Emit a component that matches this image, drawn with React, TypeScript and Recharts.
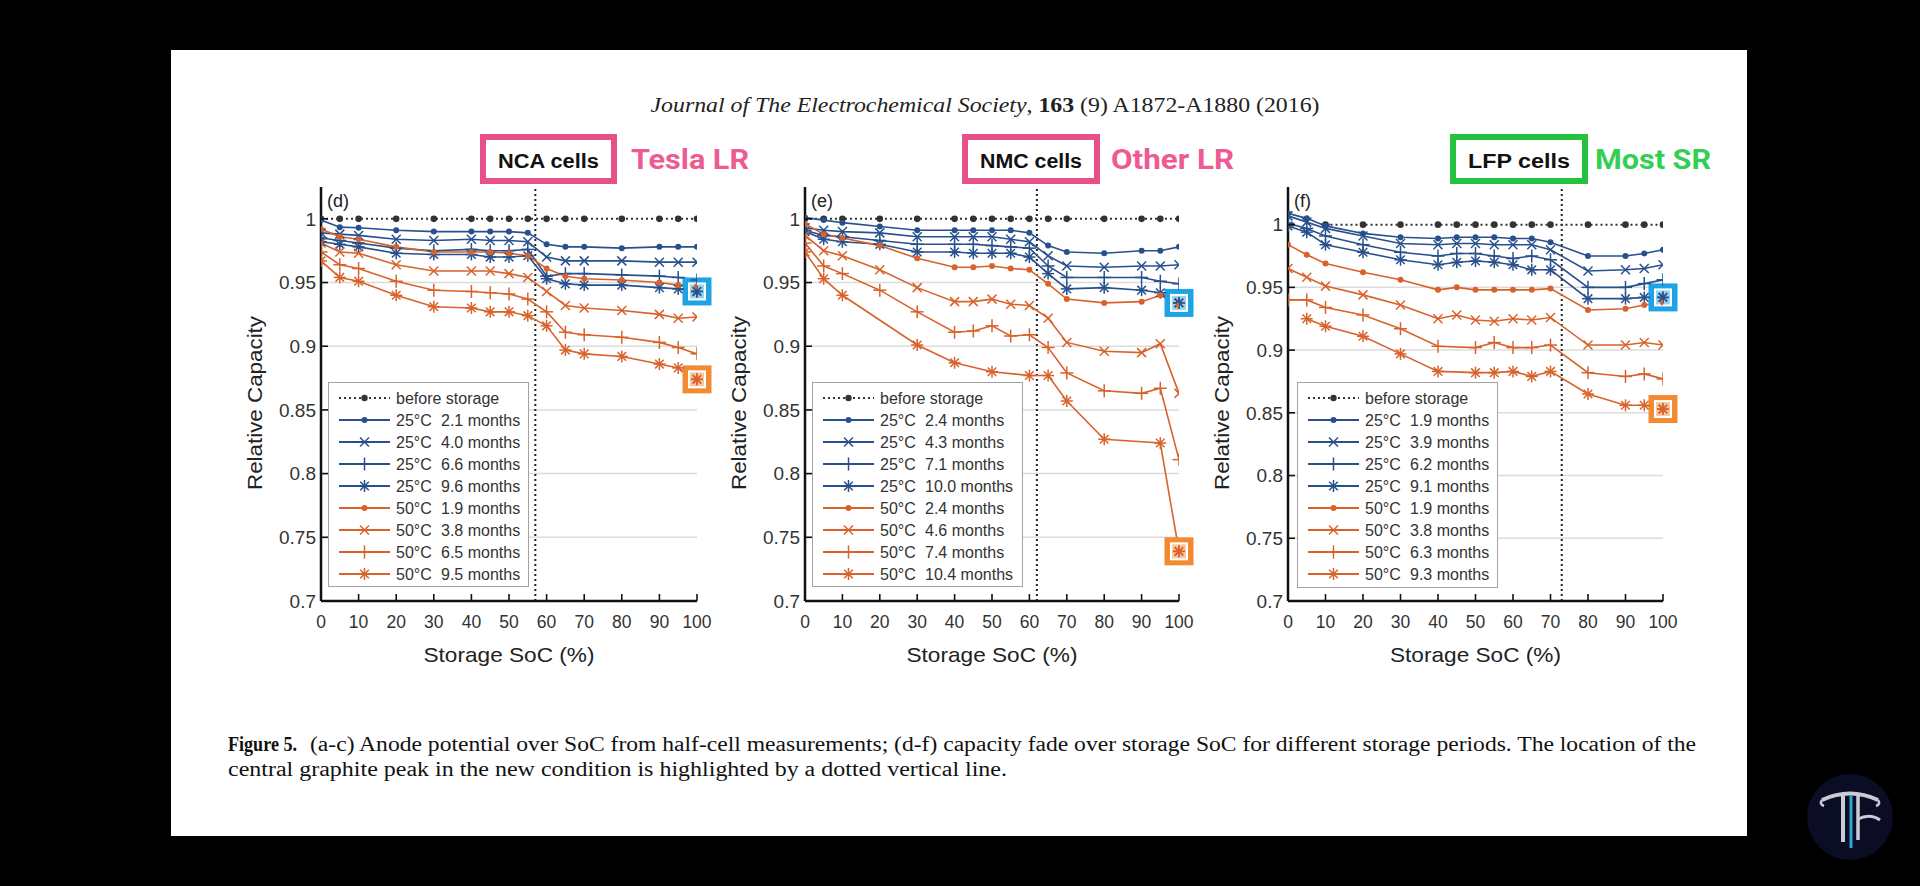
import React from 'react';
import { LineChart, Line, XAxis, YAxis, CartesianGrid, ReferenceLine, ReferenceDot, Legend } from 'recharts';

// ---------- data ----------
const socValues = [0, 5, 10, 20, 30, 40, 45, 50, 55, 60, 65, 70, 80, 90, 95, 100];
const xTicks = [0, 10, 20, 30, 40, 50, 60, 70, 80, 90, 100];
const yTicks = [0.7, 0.75, 0.8, 0.85, 0.9, 0.95, 1];
const yTickLabels = ['0.7', '0.75', '0.8', '0.85', '0.9', '0.95', '1'];
const gridValues = [0.75, 0.8, 0.85, 0.9, 0.95];

// (d) NCA
const ncaBefore = [1, 1, 1, 1, 1, 1, 1, 1, 1, 1, 1, 1, 1, 1, 1, 1];
const nca25_21 = [0.999, 0.9935, 0.993, 0.991, 0.99, 0.99, 0.99, 0.99, 0.989, 0.98, 0.978, 0.978, 0.977, 0.978, 0.978, 0.978];
const nca25_40 = [0.989, 0.988, 0.987, 0.984, 0.983, 0.984, 0.983, 0.983, 0.982, 0.97, 0.967, 0.967, 0.967, 0.966, 0.966, 0.966];
const nca25_66 = [0.985, 0.983, 0.981, 0.977, 0.975, 0.976, 0.975, 0.975, 0.976, 0.955, 0.957, 0.957, 0.956, 0.955, 0.954, 0.952];
const nca25_96 = [0.982, 0.98, 0.978, 0.973, 0.972, 0.972, 0.97, 0.97, 0.971, 0.953, 0.949, 0.948, 0.948, 0.946, 0.945, 0.943];
const nca50_19 = [0.992, 0.986, 0.984, 0.978, 0.974, 0.974, 0.974, 0.973, 0.971, 0.961, 0.955, 0.953, 0.952, 0.95, 0.948, 0.947];
const nca50_38 = [0.981, 0.974, 0.973, 0.964, 0.959, 0.959, 0.959, 0.957, 0.954, 0.943, 0.932, 0.93, 0.928, 0.925, 0.922, 0.923];
const nca50_65 = [0.974, 0.964, 0.961, 0.951, 0.944, 0.943, 0.942, 0.941, 0.937, 0.927, 0.911, 0.909, 0.907, 0.903, 0.899, 0.894];
const nca50_95 = [0.967, 0.954, 0.951, 0.94, 0.931, 0.93, 0.927, 0.927, 0.924, 0.916, 0.897, 0.894, 0.892, 0.886, 0.883, 0.874];
const ncaTemps = ['25', '25', '25', '25', '50', '50', '50', '50'];
const ncaMonths = ['2.1', '4.0', '6.6', '9.6', '1.9', '3.8', '6.5', '9.5'];

// (e) NMC
const nmcBefore = [1, 1, 1, 1, 1, 1, 1, 1, 1, 1, 1, 1, 1, 1, 1, 1];
const nmc25_24 = [1.001, 0.999, 0.997, 0.994, 0.991, 0.991, 0.991, 0.991, 0.991, 0.989, 0.979, 0.974, 0.973, 0.975, 0.975, 0.978];
const nmc25_43 = [0.993, 0.991, 0.99, 0.989, 0.986, 0.986, 0.986, 0.986, 0.984, 0.982, 0.971, 0.963, 0.962, 0.963, 0.963, 0.964];
const nmc25_71 = [0.991, 0.987, 0.986, 0.983, 0.98, 0.98, 0.98, 0.979, 0.978, 0.977, 0.963, 0.954, 0.954, 0.954, 0.951, 0.949];
const nmc25_100 = [0.99, 0.984, 0.982, 0.98, 0.974, 0.974, 0.973, 0.973, 0.973, 0.97, 0.957, 0.945, 0.946, 0.944, 0.942, 0.934];
const nmc50_24 = [0.996, 0.988, 0.985, 0.979, 0.969, 0.962, 0.962, 0.963, 0.961, 0.96, 0.949, 0.937, 0.934, 0.935, 0.94, 0.932];
const nmc50_46 = [0.987, 0.975, 0.971, 0.96, 0.946, 0.935, 0.935, 0.937, 0.933, 0.932, 0.922, 0.903, 0.896, 0.895, 0.902, 0.863];
const nmc50_74 = [0.981, 0.963, 0.957, 0.944, 0.927, 0.911, 0.912, 0.916, 0.908, 0.909, 0.899, 0.879, 0.865, 0.863, 0.867, 0.811];
const nmc50_104 = [0.974, 0.953, 0.94, null, 0.901, 0.887, null, 0.88, null, 0.877, 0.877, 0.857, 0.827, null, 0.824, 0.739];
const nmcTemps = ['25', '25', '25', '25', '50', '50', '50', '50'];
const nmcMonths = ['2.4', '4.3', '7.1', '10.0', '2.4', '4.6', '7.4', '10.4'];

// (f) LFP
const lfpBefore = [null, null, 1, 1, 1, 1, 1, 1, 1, 1, 1, 1, 1, 1, 1, 1];
const lfp25_19 = [1.009, 1.005, 0.999, 0.993, 0.99, 0.989, 0.99, 0.99, 0.99, 0.989, 0.989, 0.986, 0.975, 0.975, 0.977, 0.98];
const lfp25_39 = [1.007, 1.002, 0.997, 0.991, 0.985, 0.984, 0.985, 0.985, 0.984, 0.984, 0.984, 0.98, 0.963, 0.964, 0.965, 0.968];
const lfp25_62 = [1.001, 0.997, 0.991, 0.984, 0.978, 0.975, 0.977, 0.977, 0.975, 0.973, 0.975, 0.972, 0.95, 0.95, 0.953, 0.956];
const lfp25_91 = [0.999, 0.994, 0.984, 0.978, 0.972, 0.968, 0.97, 0.971, 0.97, 0.968, 0.964, 0.964, 0.941, 0.941, 0.942, 0.942];
const lfp50_19 = [0.984, 0.976, 0.969, 0.962, 0.956, 0.948, 0.95, 0.948, 0.948, 0.948, 0.948, 0.949, 0.932, 0.933, 0.936, 0.938];
const lfp50_38 = [0.965, 0.958, 0.951, 0.944, 0.936, 0.925, 0.928, 0.924, 0.923, 0.925, 0.924, 0.926, 0.904, 0.904, 0.906, 0.904];
const lfp50_63 = [0.94, 0.94, 0.934, 0.928, 0.917, 0.903, null, 0.902, 0.906, 0.902, 0.902, 0.904, 0.882, 0.879, 0.881, 0.877];
const lfp50_93 = [null, 0.925, 0.919, 0.911, 0.897, 0.883, null, 0.882, 0.882, 0.883, 0.879, 0.883, 0.865, 0.856, 0.856, 0.853];
const lfpTemps = ['25', '25', '25', '25', '50', '50', '50', '50'];
const lfpMonths = ['1.9', '3.9', '6.2', '9.1', '1.9', '3.8', '6.3', '9.3'];

// ---------- styles ----------
const fontSans = '"Liberation Sans", Arial, Helvetica, sans-serif';
const fontSerif = '"Liberation Serif", "Times New Roman", serif';
const BLUE = '#27508c';
const ORANGE = '#d9622b';
const BEFORE = '#333333';
const markerKinds = ['dot', 'x', 'plus', 'star'];

type Val = number | null;
interface PanelSpec {
  label: string;
  plotLeft: number;
  plotWidth: number;
  yMax: number;
  peak: number;
  before: Val[];
  series: Val[][];
  temps: string[];
  months: string[];
  legendLeft: number;
  legendWidth: number;
  legendHeight: number;
}

const CHART_TOP = 150;
const PLOT_TOP_MARGIN = 37;
const PLOT_HEIGHT = 414;
const Y_AXIS_W = 80;
const X_AXIS_H = 60;
const RIGHT_MARGIN = 30;

function Marker({ kind, cx, cy, color, sw = 1.5 }: { kind: string; cx: number; cy: number; color: string; sw?: number }) {
  if (kind === 'dot') return <circle cx={cx} cy={cy} r={3} fill={color} />;
  if (kind === 'x') {
    const s = 4.5;
    return (
      <g stroke={color} strokeWidth={sw}>
        <line x1={cx - s} y1={cy - s} x2={cx + s} y2={cy + s} />
        <line x1={cx - s} y1={cy + s} x2={cx + s} y2={cy - s} />
      </g>
    );
  }
  if (kind === 'plus') {
    const s = 6.5;
    return (
      <g stroke={color} strokeWidth={sw}>
        <line x1={cx - s} y1={cy} x2={cx + s} y2={cy} />
        <line x1={cx} y1={cy - s} x2={cx} y2={cy + s} />
      </g>
    );
  }
  const s = 6;
  const d = 4.3;
  return (
    <g stroke={color} strokeWidth={sw}>
      <line x1={cx - s} y1={cy} x2={cx + s} y2={cy} />
      <line x1={cx} y1={cy - s} x2={cx} y2={cy + s} />
      <line x1={cx - d} y1={cy - d} x2={cx + d} y2={cy + d} />
      <line x1={cx - d} y1={cy + d} x2={cx + d} y2={cy - d} />
    </g>
  );
}

const makeDot = (kind: string, color: string) => (props: any) => {
  const { cx, cy, value, index } = props;
  if (value === null || value === undefined || cx == null || cy == null || Number.isNaN(cy)) {
    return <g key={`e-${index}`} />;
  }
  return (
    <g key={`m-${index}`}>
      <Marker kind={kind} cx={cx} cy={cy} color={color} />
    </g>
  );
};

const XTick = (props: any) => {
  const { x, y, payload } = props;
  const v = payload.value;
  return (
    <g>
      {v > 0 && <line x1={x} x2={x} y1={y} y2={y - 7} stroke="#111" strokeWidth={1.6} />}
      <text x={x} y={y + 27} textAnchor="middle" fontSize={17.5} fill="#333" fontFamily={fontSans}>
        {v}
      </text>
    </g>
  );
};

const YTick = (props: any) => {
  const { x, y, payload } = props;
  const idx = yTicks.findIndex((t) => Math.abs(t - payload.value) < 1e-9);
  const label = idx >= 0 ? yTickLabels[idx] : String(payload.value);
  return (
    <g>
      <line x1={x} x2={x + 7} y1={y} y2={y} stroke="#111" strokeWidth={1.6} />
      <text x={x - 5} y={y} dy="0.36em" textAnchor="end" fontSize={19} fill="#333" fontFamily={fontSans}>
        {label}
      </text>
    </g>
  );
};

const HighlightBox = (props: any) => {
  const { cx, cy, fill, color } = props;
  if (cx == null || cy == null) return <g />;
  return (
    <g>
      <rect x={cx - 14.5} y={cy - 14} width={29} height={28} fill={fill} />
      <rect x={cx - 8} y={cy - 8} width={16} height={16} fill="rgba(255,255,255,0.55)" stroke="#fff" strokeWidth={2} />
      <Marker kind="star" cx={cx} cy={cy} color={color} sw={1.8} />
    </g>
  );
};

function LegendBox({ spec }: { spec: PanelSpec }) {
  const rowY = (i: number) => 16 + i * 22;
  const colorOf = (j: number) => (j < 4 ? BLUE : ORANGE);
  return (
    <div
      style={{
        width: spec.legendWidth,
        height: spec.legendHeight,
        background: '#fff',
        border: '1px solid #a3a3a3',
        boxSizing: 'border-box',
      }}
    >
      <svg width={spec.legendWidth - 2} height={spec.legendHeight - 2} style={{ display: 'block' }}>
        <g transform="translate(-1,-1)">
          <line x1={11} x2={62} y1={rowY(0)} y2={rowY(0)} stroke={BEFORE} strokeWidth={2} strokeDasharray="2 3" />
          <circle cx={36.5} cy={rowY(0)} r={3.2} fill={BEFORE} />
          <text x={68} y={rowY(0)} dy="0.35em" fontSize={16} fill="#333" fontFamily={fontSans}>
            before storage
          </text>
          {spec.temps.map((t, j) => (
            <g key={j}>
              <line x1={11} x2={62} y1={rowY(j + 1)} y2={rowY(j + 1)} stroke={colorOf(j)} strokeWidth={2.2} />
              <Marker kind={markerKinds[j % 4]} cx={36.5} cy={rowY(j + 1)} color={colorOf(j)} />
              <text x={68} y={rowY(j + 1)} dy="0.35em" fontSize={16} fill="#333" fontFamily={fontSans}>
                {t}°C
              </text>
              <text x={113} y={rowY(j + 1)} dy="0.35em" fontSize={16} fill="#333" fontFamily={fontSans}>
                {spec.months[j]} months
              </text>
            </g>
          ))}
        </g>
      </svg>
    </div>
  );
}

function Panel({ spec }: { spec: PanelSpec }) {
  const data = socValues.map((s, i) => {
    const row: Record<string, Val> = { soc: s, before: spec.before[i] };
    spec.series.forEach((arr, j) => {
      row['s' + j] = arr[i];
    });
    return row;
  });
  const chartLeft = spec.plotLeft - Y_AXIS_W;
  const width = Y_AXIS_W + spec.plotWidth + RIGHT_MARGIN;
  const height = PLOT_TOP_MARGIN + PLOT_HEIGHT + X_AXIS_H;
  const lastOf = (arr: Val[]) => arr[arr.length - 1] as number;
  return (
    <div style={{ position: 'absolute', left: chartLeft, top: CHART_TOP, width, height }}>
      <LineChart width={width} height={height} data={data} margin={{ top: PLOT_TOP_MARGIN, right: RIGHT_MARGIN, bottom: 0, left: 0 }}>
        <CartesianGrid vertical={false} horizontalValues={gridValues} stroke="#dcdcdc" strokeWidth={1.5} />
        <XAxis
          type="number"
          dataKey="soc"
          domain={[0, 100]}
          ticks={xTicks}
          interval={0}
          height={X_AXIS_H}
          tickSize={0}
          tickMargin={0}
          tickLine={false}
          axisLine={{ stroke: '#111', strokeWidth: 2.5 }}
          tick={(p: any) => <XTick {...p} />}
          allowDataOverflow
        />
        <YAxis
          type="number"
          domain={[0.7, spec.yMax]}
          ticks={yTicks}
          interval={0}
          width={Y_AXIS_W}
          tickSize={0}
          tickMargin={0}
          tickLine={false}
          axisLine={{ stroke: '#111', strokeWidth: 2.5 }}
          tick={(p: any) => <YTick {...p} />}
          allowDataOverflow
        />
        <ReferenceLine x={spec.peak} stroke="#222" strokeWidth={2} strokeDasharray="2 3" />
        <Line
          dataKey="before"
          stroke={BEFORE}
          strokeWidth={2}
          strokeDasharray="2 3"
          connectNulls
          dot={(p: any) => {
            const { cx, cy, value, index } = p;
            if (value == null || cy == null) return <g key={`b-${index}`} />;
            return <circle key={`b-${index}`} cx={cx} cy={cy} r={3.3} fill={BEFORE} />;
          }}
          activeDot={false}
          isAnimationActive={false}
        />
        {spec.series.map((_, j) => {
          const color = j < 4 ? BLUE : ORANGE;
          return (
            <Line
              key={j}
              dataKey={'s' + j}
              stroke={color}
              strokeWidth={1.6}
              connectNulls
              dot={makeDot(markerKinds[j % 4], color)}
              activeDot={false}
              isAnimationActive={false}
            />
          );
        })}
        <ReferenceDot
          x={100}
          y={lastOf(spec.series[3])}
          ifOverflow="visible"
          shape={(p: any) => <HighlightBox {...p} fill="#1ea3e4" color={BLUE} />}
        />
        <ReferenceDot
          x={100}
          y={lastOf(spec.series[7])}
          ifOverflow="visible"
          shape={(p: any) => <HighlightBox {...p} fill="#f28a32" color={ORANGE} />}
        />
        <Legend
          layout="vertical"
          align="center"
          verticalAlign="middle"
          content={() => <LegendBox spec={spec} />}
          wrapperStyle={{
            left: spec.legendLeft - chartLeft,
            top: 382 - CHART_TOP,
            width: spec.legendWidth,
            height: spec.legendHeight,
          }}
        />
      </LineChart>
    </div>
  );
}

const panels: PanelSpec[] = [
  {
    label: '(d)',
    plotLeft: 321,
    plotWidth: 376,
    yMax: 1.025,
    peak: 57,
    before: ncaBefore,
    series: [nca25_21, nca25_40, nca25_66, nca25_96, nca50_19, nca50_38, nca50_65, nca50_95],
    temps: ncaTemps,
    months: ncaMonths,
    legendLeft: 328,
    legendWidth: 201,
    legendHeight: 205,
  },
  {
    label: '(e)',
    plotLeft: 805,
    plotWidth: 374,
    yMax: 1.025,
    peak: 62,
    before: nmcBefore,
    series: [nmc25_24, nmc25_43, nmc25_71, nmc25_100, nmc50_24, nmc50_46, nmc50_74, nmc50_104],
    temps: nmcTemps,
    months: nmcMonths,
    legendLeft: 812,
    legendWidth: 211,
    legendHeight: 205,
  },
  {
    label: '(f)',
    plotLeft: 1288,
    plotWidth: 375,
    yMax: 1.03,
    peak: 73,
    before: lfpBefore,
    series: [lfp25_19, lfp25_39, lfp25_62, lfp25_91, lfp50_19, lfp50_38, lfp50_63, lfp50_93],
    temps: lfpTemps,
    months: lfpMonths,
    legendLeft: 1297,
    legendWidth: 201,
    legendHeight: 206,
  },
];

const tags = [
  { cell: 'NCA cells', note: 'Tesla LR', boxX: 480, boxW: 137, noteX: 631, noteW: 118, color: '#e8508a', noteColor: '#ee5a92' },
  { cell: 'NMC cells', note: 'Other LR', boxX: 962, boxW: 138, noteX: 1111, noteW: 123, color: '#e8508a', noteColor: '#ee5a92' },
  { cell: 'LFP cells', note: 'Most SR', boxX: 1450, boxW: 138, noteX: 1595, noteW: 116, color: '#25c23f', noteColor: '#33cf55' },
];

function Backdrop() {
  return (
    <svg width={1920} height={886} style={{ position: 'absolute', left: 0, top: 0 }}>
      <rect x={0} y={0} width={1920} height={886} fill="#000" />
      <rect x={171} y={50} width={1576} height={786} fill="#fff" />
      <text x={985} y={112} textAnchor="middle" fontFamily={fontSerif} fontSize={21} fill="#222" textLength={669} lengthAdjust="spacingAndGlyphs">
        <tspan fontStyle="italic">Journal of The Electrochemical Society</tspan>, <tspan fontWeight="bold">163</tspan> (9) A1872-A1880 (2016)
      </text>
      {tags.map((t) => (
        <g key={t.cell}>
          <rect x={t.boxX + 3} y={137} width={t.boxW - 6} height={44} fill="#fff" stroke={t.color} strokeWidth={6} />
          <text
            x={t.boxX + t.boxW / 2}
            y={168}
            textAnchor="middle"
            fontFamily={fontSans}
            fontWeight="bold"
            fontSize={20}
            fill="#111"
            textLength={t.boxW - 36}
            lengthAdjust="spacingAndGlyphs"
          >
            {t.cell}
          </text>
          <text
            x={t.noteX}
            y={169}
            fontFamily='"Roboto", "DejaVu Sans", sans-serif'
            fontWeight="bold"
            fontSize={28}
            fill={t.noteColor}
            textLength={t.noteW}
            lengthAdjust="spacingAndGlyphs"
          >
            {t.note}
          </text>
        </g>
      ))}
      {panels.map((p) => (
        <g key={p.label}>
          <text x={p.plotLeft + 6} y={207} fontFamily={fontSans} fontSize={18} fill="#222">
            {p.label}
          </text>
          <text
            x={p.plotLeft + p.plotWidth / 2}
            y={662}
            textAnchor="middle"
            fontFamily={fontSans}
            fontSize={21}
            fill="#222"
            textLength={171}
            lengthAdjust="spacingAndGlyphs"
          >
            Storage SoC (%)
          </text>
          <text
            transform={`translate(${p.plotLeft - 59}, 403) rotate(-90)`}
            textAnchor="middle"
            fontFamily={fontSans}
            fontSize={21}
            fill="#222"
            textLength={174}
            lengthAdjust="spacingAndGlyphs"
          >
            Relative Capacity
          </text>
        </g>
      ))}
      <text x={228} y={751} fontFamily={fontSerif} fontWeight="bold" fontSize={20} fill="#111" textLength={69} lengthAdjust="spacingAndGlyphs">
        Figure 5.
      </text>
      <text x={310} y={751} fontFamily={fontSerif} fontSize={20} fill="#111" textLength={1386} lengthAdjust="spacingAndGlyphs">
        (a-c) Anode potential over SoC from half-cell measurements; (d-f) capacity fade over storage SoC for different storage periods. The location of the
      </text>
      <text x={228} y={776} fontFamily={fontSerif} fontSize={20} fill="#111" textLength={779} lengthAdjust="spacingAndGlyphs">
        central graphite peak in the new condition is highlighted by a dotted vertical line.
      </text>
      {/* logo */}
      <g>
        <circle cx={1850} cy={817} r={43} fill="#0b0d25" />
        <path d="M1822 800 Q1850 787 1878 800" stroke="#c9ccd6" strokeWidth={4} fill="none" />
        <path d="M1822 800 q-3 4 2 6" stroke="#c9ccd6" strokeWidth={2.5} fill="none" />
        <path d="M1878 800 q3 4 -2 6" stroke="#c9ccd6" strokeWidth={2.5} fill="none" />
        <line x1={1843} y1={796} x2={1843} y2={842} stroke="#c9ccd6" strokeWidth={4} />
        <line x1={1851} y1={796} x2={1851} y2={848} stroke="#2aa7d8" strokeWidth={3} />
        <line x1={1858} y1={796} x2={1858} y2={840} stroke="#c9ccd6" strokeWidth={3.5} />
        <path d="M1858 819 Q1870 813 1880 820" stroke="#c9ccd6" strokeWidth={3} fill="none" />
      </g>
    </svg>
  );
}

export default function App() {
  return (
    <div
      style={{
        position: 'fixed',
        left: 0,
        top: 0,
        width: 1920,
        height: 886,
        background: '#000',
        overflow: 'hidden',
        fontFamily: fontSans,
      }}
    >
      <Backdrop />
      {panels.map((p) => (
        <Panel key={p.label} spec={p} />
      ))}
    </div>
  );
}
